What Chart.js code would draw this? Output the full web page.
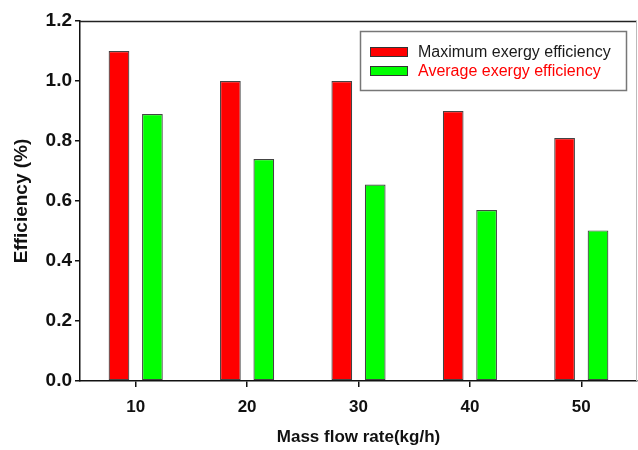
<!DOCTYPE html>
<html>
<head>
<meta charset="utf-8">
<script src="https://cdn.jsdelivr.net/npm/chart.js@4"></script>
<style>
  html, body { margin:0; padding:0; background:#fff; }
  #wrap { width:638px; height:450px; }
</style>
</head>
<body>
<div id="wrap"><canvas id="c" width="638" height="450"></canvas></div>
<script>
const flowRates  = ['10', '20', '30', '40', '50'];
const maxExergy  = [1.10, 1.00, 1.00, 0.90, 0.81];
const avgExergy  = [0.89, 0.74, 0.655, 0.57, 0.502];
const yTicks     = [0, 0.2, 0.4, 0.6, 0.8, 1.0, 1.2];

const seriesNames  = ['Maximum exergy efficiency', 'Average exergy efficiency'];
const seriesColors = ['#ff0000', '#00ff00'];
const legendText   = ['#1a1a1a', '#ff0000'];

// frame around plot area (top + right sides)
const framePlugin = {
  id: 'frame',
  afterDraw(chart) {
    const { ctx, chartArea: a } = chart;
    ctx.save();
    ctx.lineWidth = 1.5;
    ctx.strokeStyle = '#222';
    ctx.beginPath();
    ctx.moveTo(a.left, a.top + 0.5);
    ctx.lineTo(a.right, a.top + 0.5);
    ctx.stroke();
    ctx.strokeStyle = '#bbb';
    ctx.lineWidth = 1;
    ctx.beginPath();
    ctx.moveTo(a.right - 0.5, a.top);
    ctx.lineTo(a.right - 0.5, a.bottom);
    ctx.stroke();
    ctx.restore();
  }
};

// boxed legend in the upper right, drawn from dataset labels/colours
const boxLegend = {
  id: 'boxLegend',
  afterDraw(chart) {
    const ctx = chart.ctx;
    const bx = 360.5, by = 31.5, bw = 266, bh = 59;
    ctx.save();
    ctx.fillStyle = '#fff';
    ctx.fillRect(bx, by, bw, bh);
    ctx.strokeStyle = '#777';
    ctx.lineWidth = 1.5;
    ctx.strokeRect(bx, by, bw, bh);
    ctx.font = '16px "Liberation Sans", Arial, sans-serif';
    ctx.textBaseline = 'middle';
    chart.data.datasets.forEach((ds, i) => {
      const y = 47 + i * 19;
      ctx.fillStyle = ds.backgroundColor;
      ctx.fillRect(370, y, 38, 10);
      ctx.strokeStyle = '#333';
      ctx.lineWidth = 1;
      ctx.strokeRect(370.5, y + 0.5, 37, 9);
      ctx.fillStyle = legendText[i];
      ctx.fillText(ds.label, 418, y + 5.5);
    });
    ctx.restore();
  }
};

new Chart(document.getElementById('c'), {
  type: 'bar',
  data: {
    labels: flowRates,
    datasets: [
      { label: seriesNames[0], data: maxExergy, backgroundColor: seriesColors[0],
        borderColor: '#444', borderWidth: 1.2, borderSkipped: false },
      { label: seriesNames[1], data: avgExergy, backgroundColor: seriesColors[1],
        borderColor: '#444', borderWidth: 1.2, borderSkipped: false },
    ]
  },
  options: {
    responsive: false,
    animation: false,
    layout: { padding: { top: 21, right: 1, left: 0, bottom: 0 } },
    datasets: { bar: { categoryPercentage: 0.6, barPercentage: 0.62 } },
    plugins: { legend: { display: false }, tooltip: { enabled: false } },
    scales: {
      x: {
        afterFit: s => { s.height = 69; },
        grid: { display: true, offset: false, drawOnChartArea: false, tickLength: 6, color: '#111', lineWidth: 1.5 },
        border: { display: true, color: '#111', width: 1.5 },
        ticks: { color: '#111', padding: 10, font: { family: '"Liberation Sans", Arial', size: 17, weight: 'bold' } },
        title: {
          display: true, text: 'Mass flow rate(kg/h)', color: '#111',
          font: { family: '"Liberation Sans", Arial', size: 17, weight: 'bold', lineHeight: 1.2 },
          padding: { top: 0, bottom: 2 }
        }
      },
      y: {
        min: 0, max: 1.2,
        afterFit: s => { s.width = 80; },
        afterBuildTicks: s => { s.ticks = yTicks.map(v => ({ value: v })); },
        grid: { display: true, drawOnChartArea: false, tickLength: 5, color: '#111', lineWidth: 1.5 },
        border: { display: true, color: '#111', width: 1.5 },
        ticks: {
          color: '#111', padding: 3,
          font: { family: '"Liberation Sans", Arial', size: 19, weight: 'bold' },
          callback: v => Number(v).toFixed(1)
        },
        title: {
          display: true, text: 'Efficiency (%)', color: '#111',
          font: { family: '"Liberation Sans", Arial', size: 19, weight: 'bold', lineHeight: 1.2 },
          padding: { top: 10, bottom: 0 }
        }
      }
    }
  },
  plugins: [framePlugin, boxLegend]
});
</script>
</body>
</html>
